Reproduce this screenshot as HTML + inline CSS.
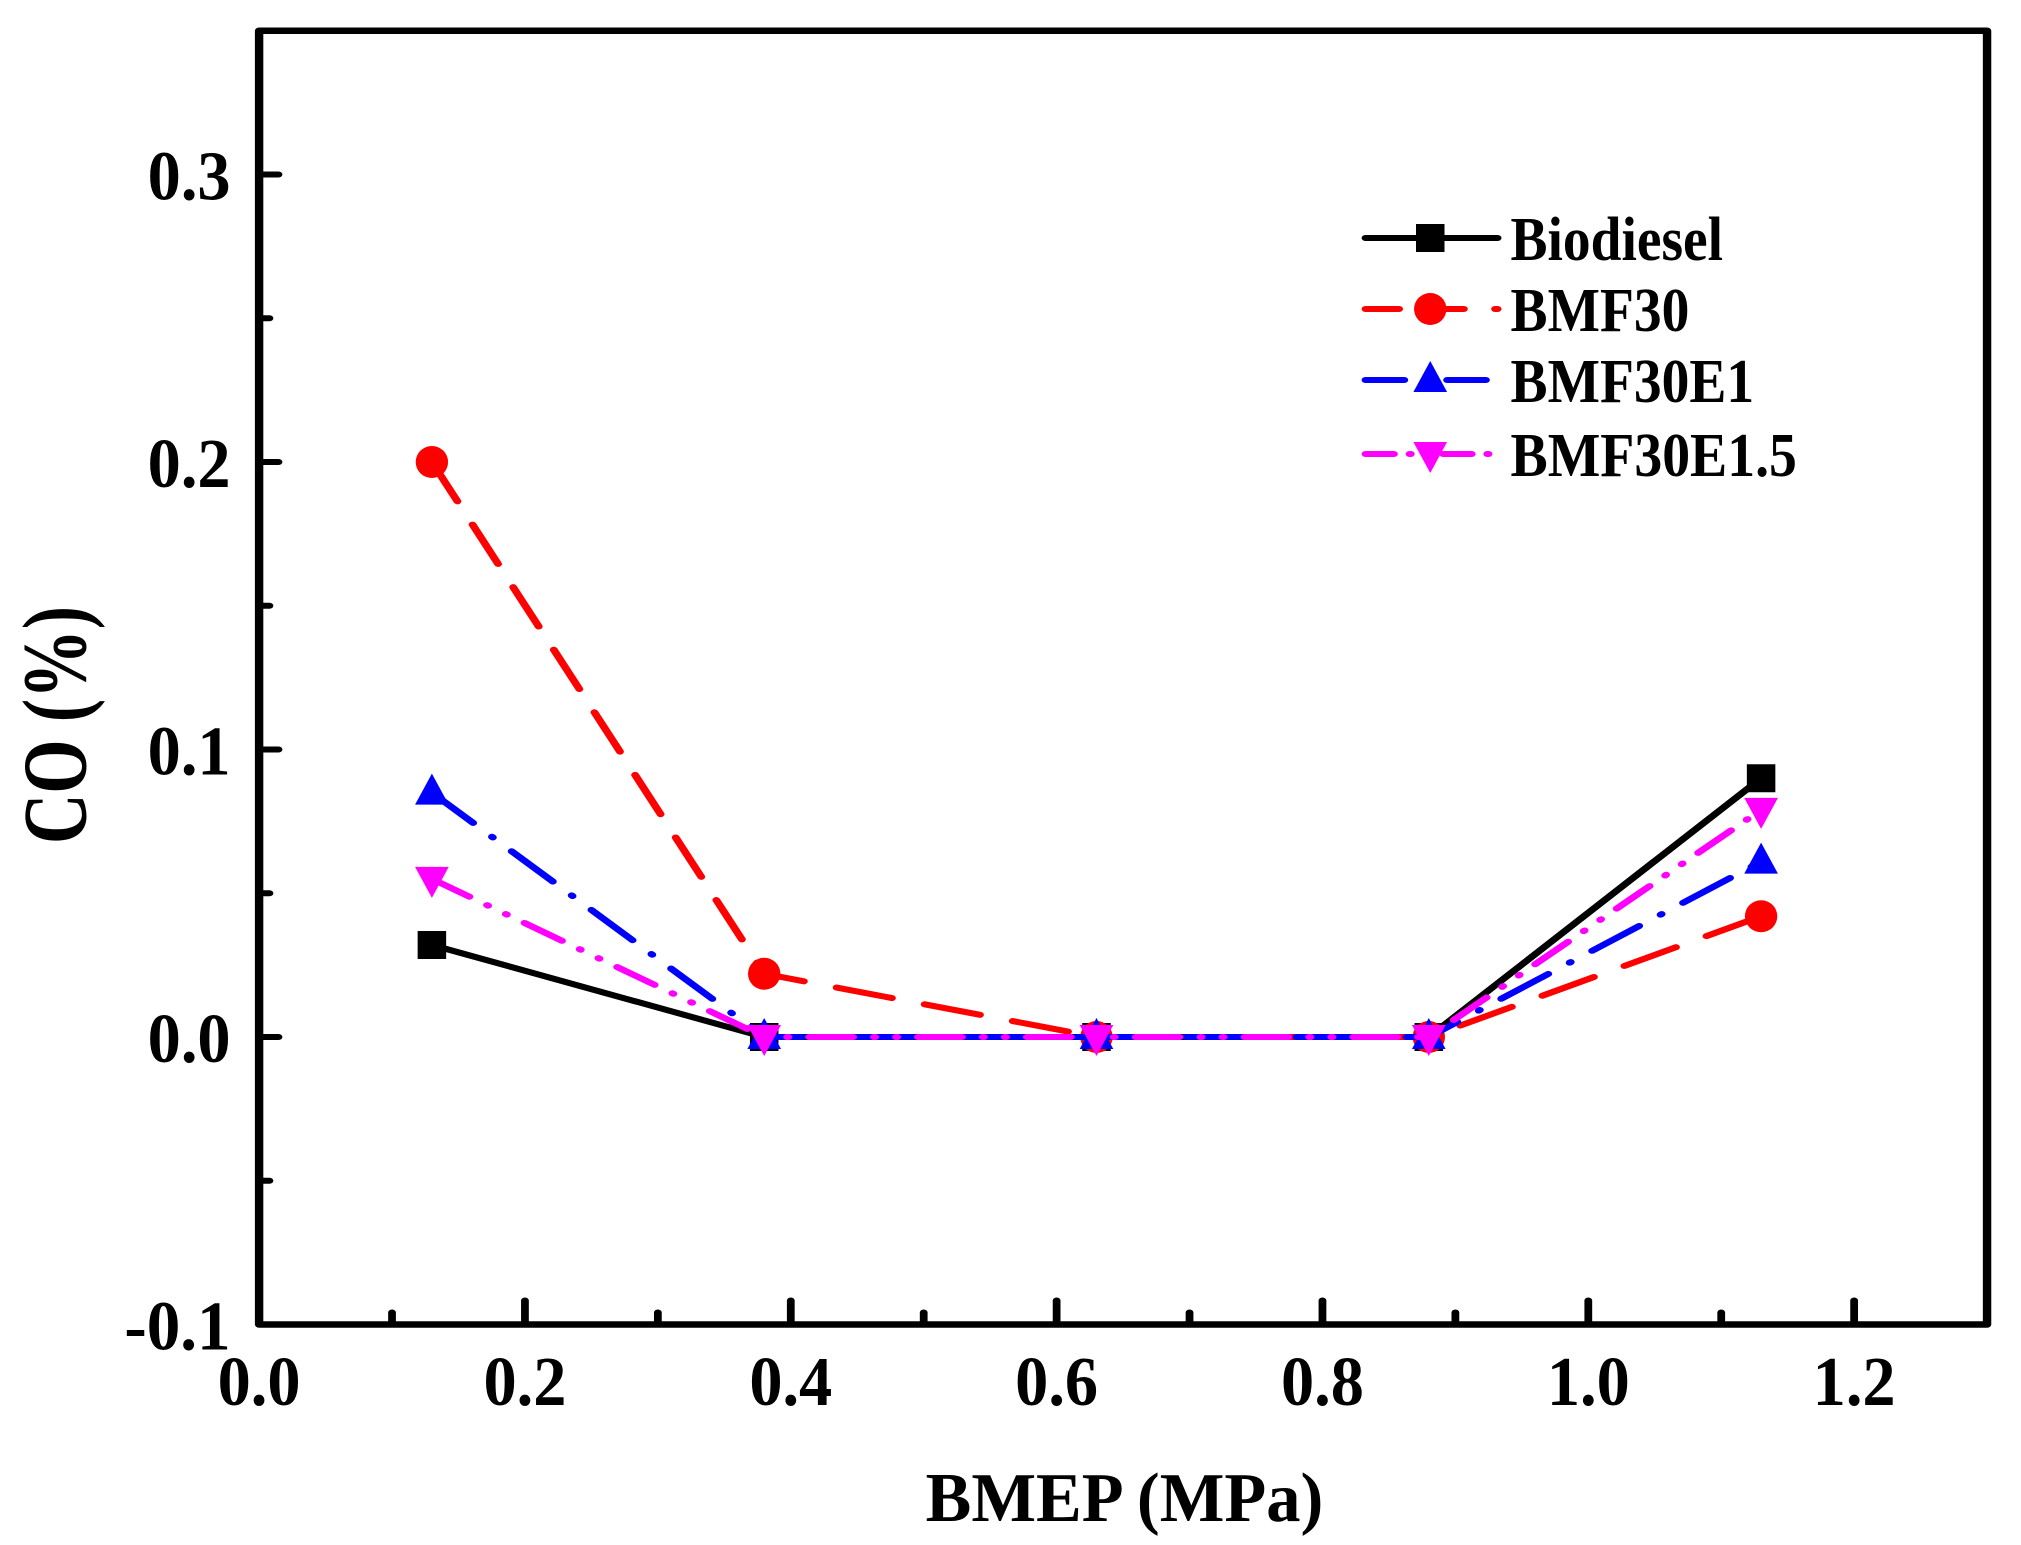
<!DOCTYPE html>
<html><head><meta charset="utf-8"><style>
html,body{margin:0;padding:0;background:#fff;}
svg{display:block;}
text{font-family:"Liberation Serif",serif;font-weight:bold;fill:#000;}
</style></head><body>
<svg id="chart" width="2021" height="1545" viewBox="0 0 1560 1545" preserveAspectRatio="none" xmlns="http://www.w3.org/2000/svg">
<g id="marks"></g>
</svg>
<script>
const xValues = [0.13, 0.38, 0.63, 0.88, 1.13];
const seriesNames = ["Biodiesel", "BMF30", "BMF30E1", "BMF30E1.5"];
const biodiesel = [0.032, 0, 0, 0, 0.090];
const bmf30 = [0.200, 0.022, 0, 0, 0.042];
const bmf30e1 = [0.085, 0, 0, 0, 0.061];
const bmf30e15 = [0.055, 0, 0, 0, 0.079];
const xTickLabels = ["0.0","0.2","0.4","0.6","0.8","1.0","1.2"];
const xTickValues = [0,0.2,0.4,0.6,0.8,1.0,1.2];
const yTickLabels = ["-0.1","0.0","0.1","0.2","0.3"];
const yTickValues = [-0.1,0,0.1,0.2,0.3];

const NS="http://www.w3.org/2000/svg";
const svg=document.getElementById('chart');
const X0=200, XK=1026, Y0=1037, YK=2875;
const xs=v=>X0+v*XK, ys=v=>Y0-v*YK;
const XMAX=1.3, YMIN=-0.1, YMAX=0.35;
function mk(tag,attrs,parent){const e=document.createElementNS(NS,tag);for(const k in attrs)e.setAttribute(k,attrs[k]);(parent||svg).appendChild(e);return e;}

const frame=mk('rect',{x:xs(0),y:ys(YMAX),width:xs(XMAX)-xs(0),height:ys(YMIN)-ys(YMAX),fill:'none',stroke:'#000','stroke-width':6.5,'stroke-linejoin':'round'});



for(let k=-2;k<=6;k++){
  const v=k*0.05, major=k%2===0;
  const t=mk('line',{x1:xs(0),x2:xs(0)+(major?15:8),y1:ys(v),y2:ys(v),stroke:'#000','stroke-width':6,'stroke-linecap':'round'});
  
  
}
yTickValues.forEach((v,i)=>{
  const t=mk('text',{x:178,y:ys(v)+25,'font-size':70,'text-anchor':'end',textLength:yTickLabels[i].length>3?82:64,lengthAdjust:'spacingAndGlyphs'});
  t.textContent=yTickLabels[i];
  
  
});
for(let k=1;k<=12;k++){
  const v=k/10, major=k%2===0;
  const t=mk('line',{x1:xs(v),x2:xs(v),y1:ys(YMIN),y2:ys(YMIN)-(major?24:12),stroke:'#000','stroke-width':6,'stroke-linecap':'round'});
  
  
}
xTickValues.forEach((v,i)=>{
  const t=mk('text',{x:xs(v),y:1405,'font-size':70,'text-anchor':'middle',textLength:64,lengthAdjust:'spacingAndGlyphs'});
  t.textContent=xTickLabels[i];
  
  
});
const xt=mk('text',{x:868,y:1521,'font-size':70,'text-anchor':'middle',textLength:307,lengthAdjust:'spacingAndGlyphs'});
xt.textContent='BMEP (MPa)';


const yt=mk('text',{x:0,y:0,'font-size':70,'text-anchor':'middle',textLength:238,lengthAdjust:'spacingAndGlyphs',transform:'translate(66,725) rotate(-90)'});
yt.textContent='CO (%)';



const styles=[
 {color:'#000',dash:'',marker:'square'},
 {color:'#ff0000',dash:'44 26',marker:'circle'},
 {color:'#0000ff',dash:'44 20 1 20',marker:'up'},
 {color:'#ff00ff',dash:'34 16 1 16 1 16',marker:'down'}
];
const data=[biodiesel,bmf30,bmf30e1,bmf30e15];
function marker(type,cx,cy,color,parent){
  let e;
  if(type==='square') e=mk('rect',{x:cx-11,y:cy-14,width:22,height:28,fill:color},parent);
  else if(type==='circle') e=mk('ellipse',{cx:cx,cy:cy,rx:12.5,ry:16,fill:color},parent);
  else if(type==='up') e=mk('polygon',{points:`${cx},${cy-19} ${cx+13},${cy+12} ${cx-13},${cy+12}`,fill:color},parent);
  else e=mk('polygon',{points:`${cx},${cy+19} ${cx+13},${cy-12} ${cx-13},${cy-12}`,fill:color},parent);
  return e;
}
data.forEach((vals,si)=>{
  const st=styles[si];
  const g=mk('g',{});
  
  
  const pts=vals.map((v,i)=>xs(xValues[i])+','+ys(v)).join(' ');
  const pl=mk('polyline',{points:pts,fill:'none',stroke:st.color,'stroke-width':6,'stroke-dasharray':st.dash,'stroke-linecap':'round','stroke-linejoin':'round'},g);
  
  
  vals.forEach((v,i)=>{
    const m=marker(st.marker,xs(xValues[i]),ys(v),st.color,g);
    
    
  });
});
const legY=[238,309,380,454], legLen=[164,138,188,221];
const lg=mk('g',{});


seriesNames.forEach((n,i)=>{
  const st=styles[i];
  const e=mk('g',{},lg);
  
  
  const l=mk('line',{x1:1054,x2:1156,y1:legY[i],y2:legY[i],stroke:st.color,'stroke-width':6,'stroke-dasharray':i===0?'':(i===1?'26 24':i===2?'30 16 1 16':'22 12 1 12 1 12'),'stroke-linecap':'round'},e);
  
  
  const m=marker(st.marker,1104,legY[i],st.color,e);
  
  
  const t=mk('text',{x:1166,y:legY[i]+22,'font-size':62,textLength:legLen[i],lengthAdjust:'spacingAndGlyphs'},e);
  t.textContent=n;
  
  
});
</script>
</body></html>
